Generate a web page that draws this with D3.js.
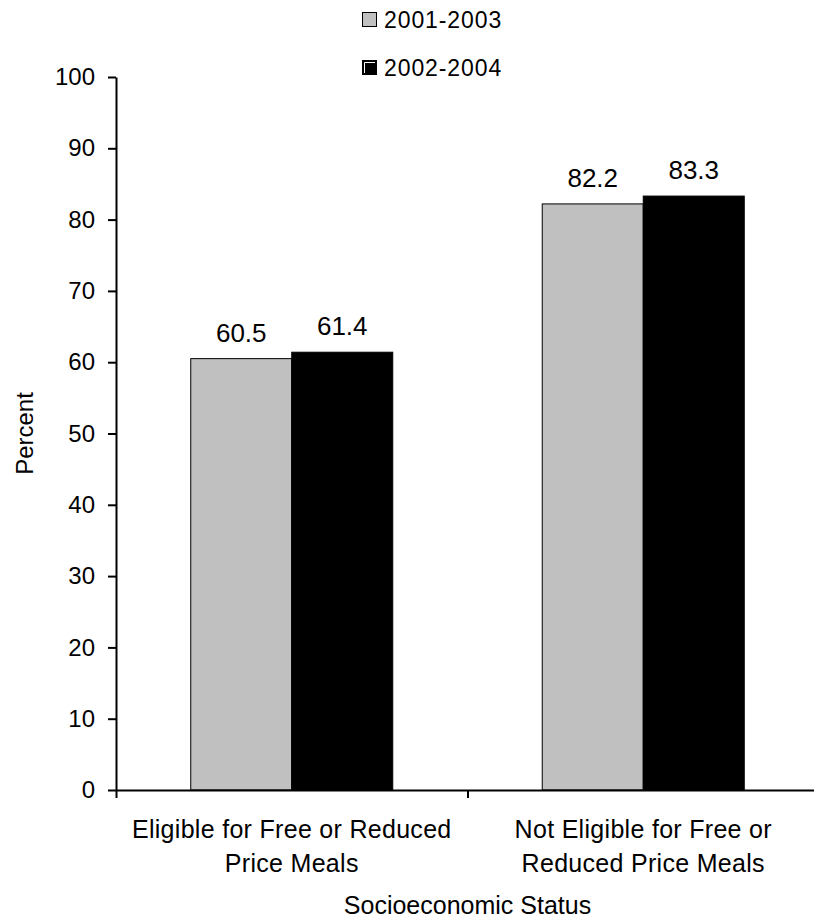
<!DOCTYPE html>
<html>
<head>
<meta charset="utf-8">
<script src="https://cdn.jsdelivr.net/npm/d3@7"></script>
<style>
  body { margin: 0; background: #fff; }
  svg { display: block; }
  text { font-family: "Liberation Sans", Arial, sans-serif; fill: #000; }
</style>
</head>
<body>
<svg id="chart" width="814" height="921"></svg>
<script>
const categories = [
  ["Eligible for Free or Reduced", "Price Meals"],
  ["Not Eligible for Free or", "Reduced Price Meals"]
];
const seriesNames = ["2001-2003", "2002-2004"];
const seriesColors = ["#c0c0c0", "#000000"];
const values2001_2003 = [60.5, 82.2];
const values2002_2004 = [61.4, 83.3];
const yTicks = [0, 10, 20, 30, 40, 50, 60, 70, 80, 90, 100];
const yTitle = "Percent";
const xTitle = "Socioeconomic Status";

const seriesValues = [values2001_2003, values2002_2004];
const svg = d3.select("#chart");

const plotLeft = 116, plotRight = 819, plotTop = 77, plotBottom = 790;

const y = d3.scaleLinear().domain([0, 100]).range([plotBottom, plotTop]);
const x0 = d3.scaleBand().domain(d3.range(categories.length)).range([plotLeft, plotRight]).padding(0);
const x1 = d3.scaleBand().domain(d3.range(seriesNames.length)).range([0, x0.bandwidth()])
  .paddingInner(0).paddingOuter(0.74);
const xEdges = d3.scaleLinear().domain([0, categories.length]).range([plotLeft, plotRight]);

// bars
const groups = svg.append("g").selectAll("g")
  .data(categories.map((c, i) => i))
  .join("g")
  .attr("transform", i => `translate(${x0(i)},0)`);

groups.selectAll("rect")
  .data(i => seriesValues.map((vals, s) => ({ s, v: vals[i] })))
  .join("rect")
  .attr("x", d => x1(d.s))
  .attr("y", d => y(d.v))
  .attr("width", x1.bandwidth())
  .attr("height", d => y(0) - y(d.v))
  .attr("fill", d => seriesColors[d.s])
  .attr("stroke", "#000")
  .attr("stroke-width", 1);

groups.selectAll("text.val")
  .data(i => seriesValues.map((vals, s) => ({ s, v: vals[i] })))
  .join("text")
  .attr("class", "val")
  .attr("x", d => x1(d.s) + x1.bandwidth() / 2)
  .attr("y", d => y(d.v) - 17)
  .attr("text-anchor", "middle")
  .style("font-size", "26px")
  .text(d => d.v.toFixed(1));

// y axis
const yAxis = svg.append("g")
  .attr("transform", `translate(${plotLeft},0)`)
  .call(d3.axisLeft(y).tickValues(yTicks).tickSize(8).tickSizeOuter(0).tickPadding(13));
yAxis.select(".domain").attr("stroke", "#000").attr("stroke-width", 2);
yAxis.selectAll(".tick line").attr("stroke", "#000").attr("stroke-width", 2);
yAxis.selectAll(".tick text").style("font-size", "24px").attr("font-family", null);

// x axis
const xAxis = svg.append("g")
  .attr("transform", `translate(0,${plotBottom})`)
  .call(d3.axisBottom(xEdges).tickValues(d3.range(categories.length + 1)).tickSize(8).tickSizeOuter(0).tickFormat(""));
xAxis.select(".domain").attr("stroke", "#000").attr("stroke-width", 2);
xAxis.selectAll(".tick line").attr("stroke", "#000").attr("stroke-width", 2);

// category labels
categories.forEach((lines, i) => {
  const cx = x0(i) + x0.bandwidth() / 2;
  const t = svg.append("text")
    .attr("text-anchor", "middle")
    .style("font-size", "25px")
    .style("letter-spacing", "0.3px");
  lines.forEach((ln, k) => {
    t.append("tspan").attr("x", cx).attr("y", 838 + k * 34).text(ln);
  });
});

// axis titles
svg.append("text")
  .attr("x", (plotLeft + plotRight) / 2)
  .attr("y", 914)
  .attr("text-anchor", "middle")
  .style("font-size", "25px")
  .text(xTitle);

svg.append("text")
  .attr("transform", `translate(33,${(plotTop + plotBottom) / 2}) rotate(-90)`)
  .attr("text-anchor", "middle")
  .style("font-size", "24px")
  .text(yTitle);

// legend
const legend = svg.append("g");
seriesNames.forEach((name, s) => {
  const ly = 12 + s * 48;
  legend.append("rect")
    .attr("x", 362.5).attr("y", ly + 0.5)
    .attr("width", 14).attr("height", 14)
    .attr("fill", seriesColors[s])
    .attr("stroke", "#000").attr("stroke-width", 1);
  if (s === 1) {
    legend.append("path")
      .attr("d", `M${364.5},${ly + 13} V${ly + 2.5} H${375}`)
      .attr("fill", "none").attr("stroke", "#fff").attr("stroke-width", 1);
  }
  legend.append("text")
    .attr("x", 384).attr("y", ly + 15.5)
    .style("font-size", "23px")
    .style("letter-spacing", "0.9px")
    .text(name);
});
</script>
</body>
</html>
